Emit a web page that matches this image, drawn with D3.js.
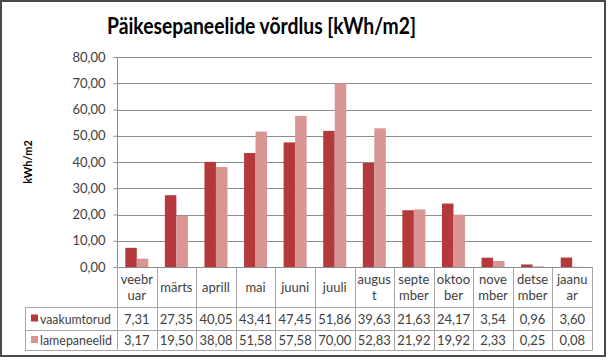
<!DOCTYPE html>
<html><head><meta charset="utf-8">
<script src="https://cdn.jsdelivr.net/npm/d3@7"></script>
<style>body{margin:0;background:#fff}svg{display:block}</style>
</head><body>
<svg id="c" width="608" height="360"></svg>
<script>
const categories = ["veebruar","märts","aprill","mai","juuni","juuli","august","september","oktoober","november","detsember","jaanuar"];
const categoryLines = [["veebr","uar"],["märts"],["aprill"],["mai"],["juuni"],["juuli"],["augus","t"],["septe","mber"],["oktoo","ber"],["nove","mber"],["detse","mber"],["jaanu","ar"]];
const seriesNames = ["vaakumtorud","lamepaneelid"];
const vaakumtorud = [7.31,27.35,40.05,43.41,47.45,51.86,39.63,21.63,24.17,3.54,0.96,3.60];
const lamepaneelid = [3.17,19.50,38.08,51.58,57.58,70.00,52.83,21.92,19.92,2.33,0.25,0.08];
const yTicks = [0,10,20,30,40,50,60,70,80];
const title = "Päikesepaneelide võrdlus [kWh/m2]";
const yLabel = "kWh/m2";

const colors = ["#B3393B","#D99594"];
const font = "Lato, 'Open Sans', sans-serif";
const svg = d3.select("#c");
const L = 117, R = 592, T = 57, B = 267;
const rowTop = 307, rowMid = 330, rowBot = 350, legL = 25;
const lineCol = "#A6A6A6", textCol = "#404040";

// outer border
svg.append("rect").attr("x",1).attr("y",1).attr("width",604).attr("height",355)
  .attr("fill","#fff").attr("stroke","#4a4a4a").attr("stroke-width",2);

// title
svg.append("text").attr("x",107).attr("y",34)
  .attr("font-family",font).attr("font-weight","bold").attr("font-size",23).attr("fill","#000")
  .attr("textLength",309).attr("lengthAdjust","spacingAndGlyphs")
  .text(title);

const x = d3.scaleBand().domain(categories).range([L,R]);
const x1 = d3.scaleBand().domain(seriesNames).range([0,x.bandwidth()]).paddingOuter(0.72).paddingInner(0);
const y = d3.scaleLinear().domain([0,80]).range([B,T]);

// gridlines
svg.append("g").selectAll("line").data(yTicks.filter(d=>d>0)).join("line")
  .attr("x1",L).attr("x2",R).attr("y1",d=>Math.round(y(d))+0.5).attr("y2",d=>Math.round(y(d))+0.5)
  .attr("stroke","#8C8C8C").attr("stroke-width",1);

// y axis
const yAxis = d3.axisLeft(y).tickValues(yTicks).tickSize(4).tickPadding(8)
  .tickFormat(d=>d3.format(".2f")(d).replace(".",","));
const ga = svg.append("g").attr("transform",`translate(${L+0.5},0)`).call(yAxis);
ga.select(".domain").attr("stroke","#8C8C8C").attr("d",`M0,${T}V${B}`);
ga.selectAll(".tick line").attr("stroke","#8C8C8C");
ga.selectAll("text").attr("font-family",font).attr("font-size",13).attr("fill",textCol);

// y label
svg.append("text").attr("transform","translate(32,162) rotate(-90)").attr("text-anchor","middle")
  .attr("font-family",font).attr("font-weight","bold").attr("font-size",11).attr("fill","#000")
  .text(yLabel);

// bars
const series = [vaakumtorud, lamepaneelid];
series.forEach((vals,si)=>{
  svg.append("g").selectAll("rect").data(vals).join("rect")
    .attr("x",(d,i)=>x(categories[i])+x1(seriesNames[si]))
    .attr("width",x1.bandwidth())
    .attr("y",d=>y(d)).attr("height",d=>B-y(d))
    .attr("fill",colors[si]);
});

// axis line
svg.append("line").attr("x1",L).attr("x2",R).attr("y1",B+0.5).attr("y2",B+0.5).attr("stroke","#8C8C8C");

// table
const tg = svg.append("g").attr("stroke",lineCol).attr("stroke-width",1).attr("fill","none");
const bounds = categories.map(c=>x(c)).concat([R]);
bounds.forEach(bx=>{
  tg.append("line").attr("x1",Math.round(bx)+0.5).attr("x2",Math.round(bx)+0.5).attr("y1",B).attr("y2",rowBot);
});
[rowTop,rowMid,rowBot].forEach(ry=>{
  tg.append("line").attr("x1",legL).attr("x2",R+0.5).attr("y1",ry+0.5).attr("y2",ry+0.5);
});
tg.append("line").attr("x1",legL+0.5).attr("x2",legL+0.5).attr("y1",rowTop).attr("y2",rowBot);

// header labels
categoryLines.forEach((lines,i)=>{
  const cx = x(categories[i]) + x.bandwidth()/2;
  const t = svg.append("text").attr("text-anchor","middle").attr("font-family",font)
    .attr("font-size",13).attr("fill",textCol);
  const y0 = lines.length===1 ? 292 : 284;
  lines.forEach((ln,k)=>{
    t.append("tspan").attr("x",cx).attr("y",y0+k*16).text(ln);
  });
});

// value rows
const rowsY = [323.5, 345];
const legendW = [71, 72];
const fmt = v=>d3.format(".2f")(v).replace(".",",");
series.forEach((vals,si)=>{
  svg.append("g").selectAll("text").data(vals).join("text")
    .attr("x",(d,i)=>x(categories[i])+x.bandwidth()/2).attr("y",rowsY[si])
    .attr("text-anchor","middle").attr("font-family",font).attr("font-size",13).attr("fill",textCol)
    .text(fmt);
  svg.append("rect").attr("x",31).attr("y",rowsY[si]-9).attr("width",7).attr("height",7).attr("fill",colors[si]);
  svg.append("text").attr("x",40).attr("y",rowsY[si]).attr("font-family",font).attr("font-size",13)
    .attr("textLength",legendW[si]).attr("lengthAdjust","spacingAndGlyphs")
    .attr("fill",textCol).text(seriesNames[si]);
});
</script>
</body></html>
